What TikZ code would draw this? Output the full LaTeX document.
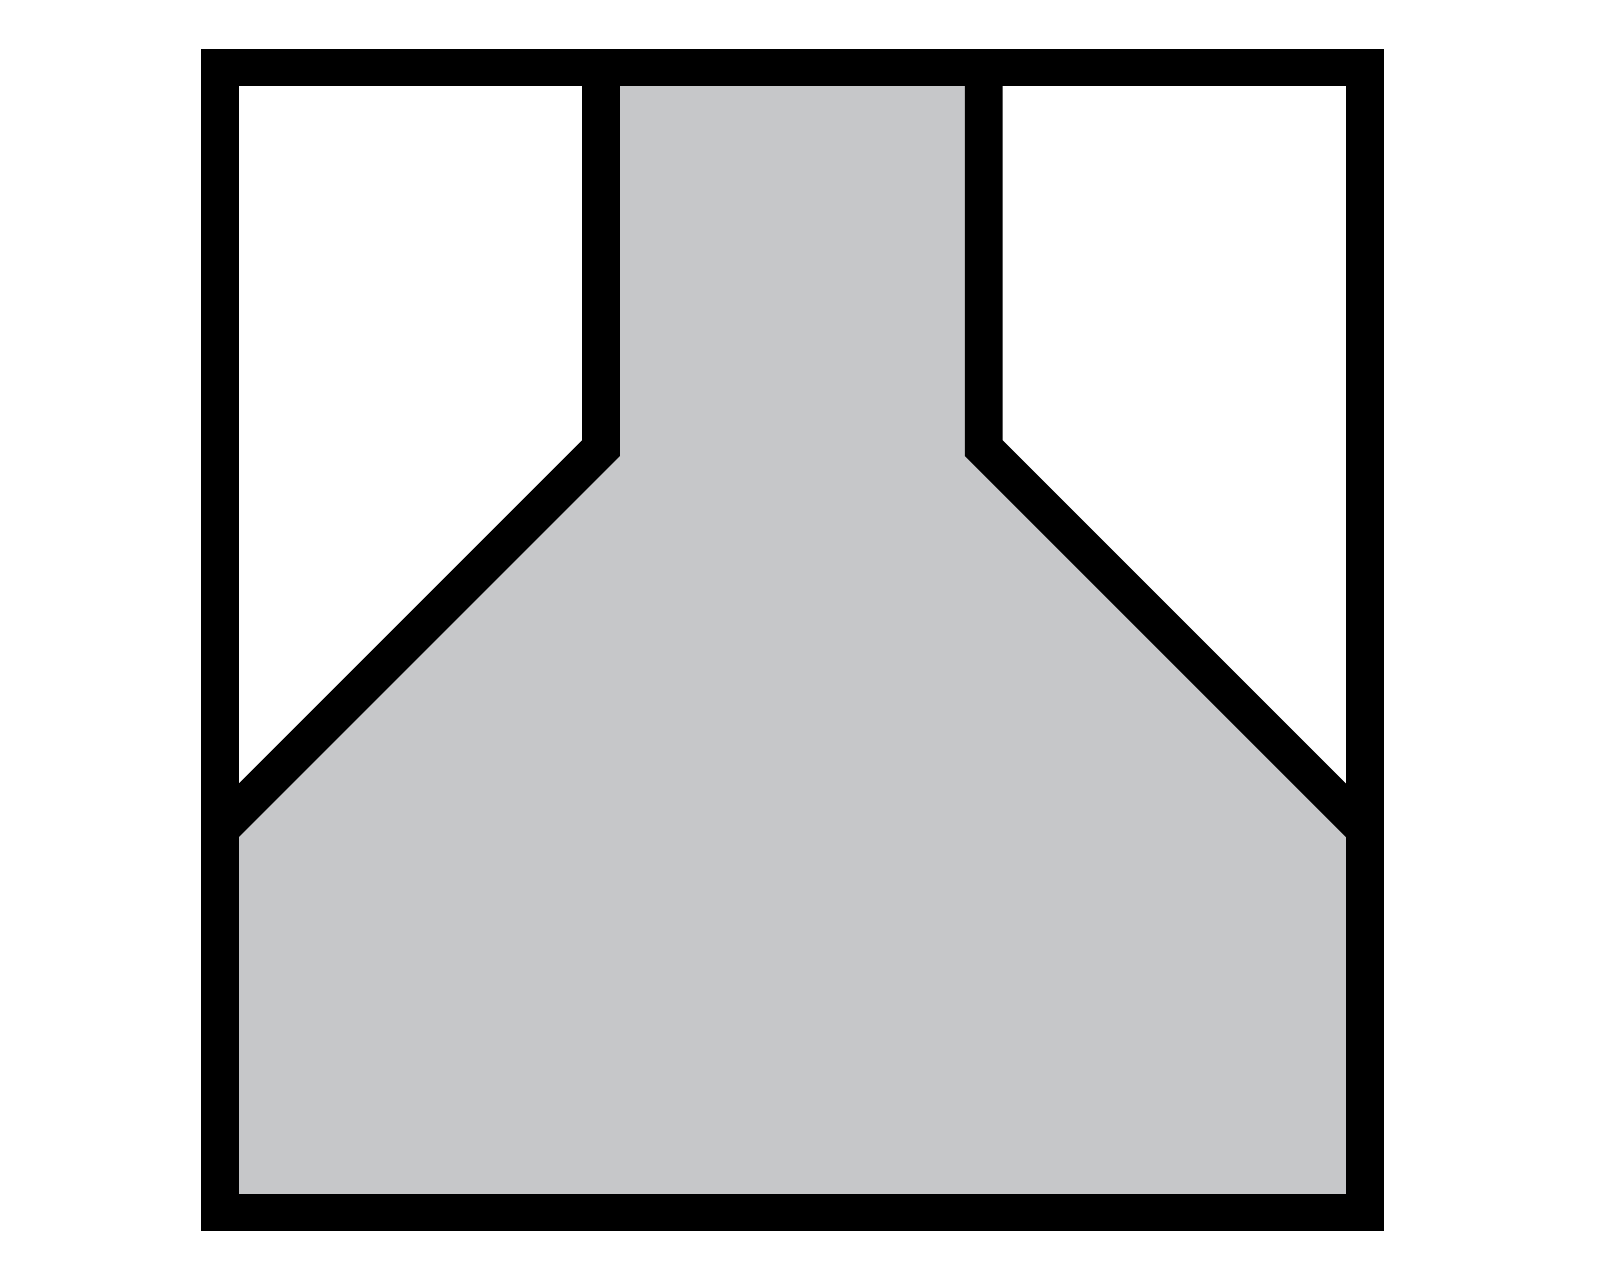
\documentclass[tikz,border=0pt]{standalone}
\usepackage{tikz}
\definecolor{fillgrey}{HTML}{C6C7C9}
\begin{document}
\begin{tikzpicture}[x=1pt,y=-1pt,
  wall/.style={draw=black,line width=37pt,line join=miter}]
\useasboundingbox (0,0) rectangle (1567,1253.6);
\fill[fillgrey] (215.5,1187.5) -- (215.5,812) -- (588.5,439) -- (588.5,66) -- (963.5,66) -- (963.5,439) -- (1336.5,812) -- (1336.5,1187.5) -- cycle;
\draw[wall] (588.5,66) -- (588.5,439) -- (215.5,812);
\draw[wall] (963.5,66) -- (963.5,439) -- (1336.5,812);
\draw[wall] (215.5,66) rectangle (1336.5,1187.5);
\end{tikzpicture}
\end{document}
